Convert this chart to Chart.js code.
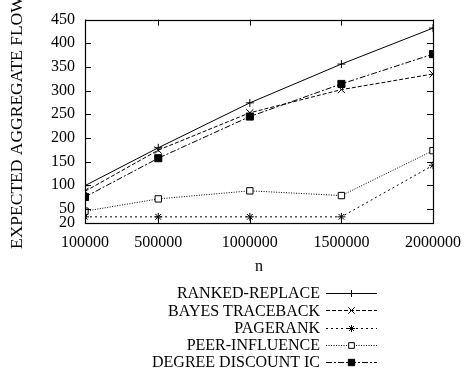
<!DOCTYPE html>
<html>
<head>
<meta charset="utf-8">
<script src="https://cdn.jsdelivr.net/npm/chart.js@4/dist/chart.umd.min.js"></script>
<style>
  html, body { margin: 0; padding: 0; background: #fff; }
  #wrap { width: 471px; height: 378px; }
</style>
</head>
<body>
<div id="wrap"><canvas id="c" width="471" height="378"></canvas></div>
<script>
// Network size n on the x axis
const nValues = [100000, 500000, 1000000, 1500000, 2000000];
// Y axis tick values
const yTicks = [20, 50, 100, 150, 200, 250, 300, 350, 400, 450];

// Expected aggregate flow per method
const rankedReplace   = [99, 179, 274, 356, 432];
const bayesTraceback  = [87, 174, 253, 302, 335];
const pageRank        = [33, 33, 33, 33, 142];
const peerInfluence   = [45, 71, 88, 78, 173];
const degreeDiscount  = [75, 157, 245, 314, 377];

const seriesLabels = ['RANKED-REPLACE', 'BAYES TRACEBACK', 'PAGERANK', 'PEER-INFLUENCE', 'DEGREE DISCOUNT IC'];

const SERIF = '"Liberation Serif", "DejaVu Serif", serif';

function pts(vals) { return vals.map((v, i) => ({ x: nValues[i], y: v })); }

const datasets = [
  { label: seriesLabels[0], data: pts(rankedReplace), borderDash: [], pointStyle: 'cross', pointRadius: 4, pointBackgroundColor: '#000' },
  { label: seriesLabels[1], data: pts(bayesTraceback), borderDash: [4, 2], pointStyle: 'crossRot', pointRadius: 5, pointBackgroundColor: '#000' },
  { label: seriesLabels[2], data: pts(pageRank), borderDash: [2, 3], pointStyle: 'star', pointRadius: 4, pointBackgroundColor: '#000' },
  { label: seriesLabels[3], data: pts(peerInfluence), borderDash: [1, 1.5], pointStyle: 'rect', pointRadius: 4.5, pointBackgroundColor: '#fff' },
  { label: seriesLabels[4], data: pts(degreeDiscount), borderDash: [6, 2, 2, 2], pointStyle: 'rect', pointRadius: 5, pointBackgroundColor: '#000' }
].map(d => Object.assign({
  borderColor: '#000',
  borderWidth: 1,
  pointBorderColor: '#000',
  pointBorderWidth: 1,
  pointHoverRadius: 4,
  fill: false,
  tension: 0
}, d));

// Frame, inward ticks, axis titles and the key
const decorations = {
  id: 'decorations',
  afterDatasetsDraw(chart) {
    const { ctx, chartArea: a, scales } = chart;
    const tl = 6;
    ctx.save();
    ctx.strokeStyle = '#000';
    ctx.lineWidth = 1;
    ctx.setLineDash([]);
    ctx.beginPath();
    yTicks.forEach(v => {
      const y = Math.round(scales.y.getPixelForValue(v)) + 0.5;
      ctx.moveTo(a.left, y); ctx.lineTo(a.left + tl, y);
      ctx.moveTo(a.right, y); ctx.lineTo(a.right - tl, y);
    });
    nValues.forEach(v => {
      const x = Math.round(scales.x.getPixelForValue(v)) + 0.5;
      ctx.moveTo(x, a.bottom); ctx.lineTo(x, a.bottom - tl);
      ctx.moveTo(x, a.top); ctx.lineTo(x, a.top + tl);
    });
    ctx.stroke();
    ctx.lineWidth = 1.2;
    ctx.strokeRect(Math.round(a.left) + 0.5, Math.round(a.top) + 0.5,
                   Math.round(a.right - a.left), Math.round(a.bottom - a.top));
    ctx.restore();
  },
  afterDraw(chart) {
    const { ctx, chartArea: a } = chart;
    ctx.save();
    ctx.fillStyle = '#000';
    // y axis title (runs past the top edge)
    ctx.save();
    ctx.font = '17.5px ' + SERIF;
    ctx.translate(17, 249);
    ctx.rotate(-Math.PI / 2);
    ctx.textAlign = 'left';
    ctx.textBaseline = 'middle';
    ctx.fillText('EXPECTED AGGREGATE FLOW', 0, 0);
    ctx.restore();
    // x axis title
    ctx.font = '16px ' + SERIF;
    ctx.textAlign = 'center';
    ctx.textBaseline = 'middle';
    ctx.fillText('n', (a.left + a.right) / 2, 267);
    // key
    const textRight = 320, lineL = 326, lineR = 377, mid = (lineL + lineR) / 2;
    chart.data.datasets.forEach((ds, i) => {
      const y = 293 + i * 17.3;
      ctx.textAlign = 'right';
      ctx.textBaseline = 'middle';
      ctx.fillStyle = '#000';
      ctx.fillText(ds.label, textRight, y + 1);
      ctx.strokeStyle = ds.borderColor;
      ctx.lineWidth = ds.borderWidth;
      ctx.setLineDash(ds.borderDash);
      ctx.beginPath();
      ctx.moveTo(lineL, Math.round(y) + 0.5);
      ctx.lineTo(lineR, Math.round(y) + 0.5);
      ctx.stroke();
      ctx.setLineDash([]);
      if (Chart.helpers && Chart.helpers.drawPoint) {
        ctx.fillStyle = ds.pointBackgroundColor;
        ctx.strokeStyle = ds.pointBorderColor;
        ctx.lineWidth = ds.pointBorderWidth;
        Chart.helpers.drawPoint(ctx, {
          pointStyle: ds.pointStyle,
          radius: ds.pointRadius - 0.5,
          rotation: 0,
          borderWidth: ds.pointBorderWidth
        }, mid, Math.round(y) + 0.5);
      }
    });
    ctx.restore();
  }
};

new Chart(document.getElementById('c'), {
  type: 'line',
  data: { datasets },
  plugins: [decorations],
  options: {
    responsive: false,
    animation: false,
    devicePixelRatio: 1,
    layout: { padding: { top: 18, right: 30, left: 0, bottom: 0 } },
    plugins: { legend: { display: false }, tooltip: { enabled: false }, title: { display: false } },
    scales: {
      x: {
        type: 'linear',
        min: 100000,
        max: 2000000,
        afterBuildTicks: s => { s.ticks = nValues.map(v => ({ value: v })); },
        afterFit: s => { s.height = 155; },
        grid: { display: false, drawTicks: false },
        border: { display: false },
        ticks: {
          color: '#000',
          font: { family: SERIF, size: 16 },
          padding: 10,
          maxRotation: 0,
          autoSkip: false,
          callback: v => String(v)
        }
      },
      y: {
        type: 'linear',
        min: 20,
        max: 450,
        afterBuildTicks: s => { s.ticks = yTicks.map(v => ({ value: v })); },
        afterFit: s => { s.width = 85; },
        grid: { display: false, drawTicks: false },
        border: { display: false },
        ticks: {
          color: '#000',
          font: { family: SERIF, size: 16 },
          padding: 10,
          autoSkip: false,
          callback: v => String(v)
        }
      }
    }
  }
});
</script>
</body>
</html>
